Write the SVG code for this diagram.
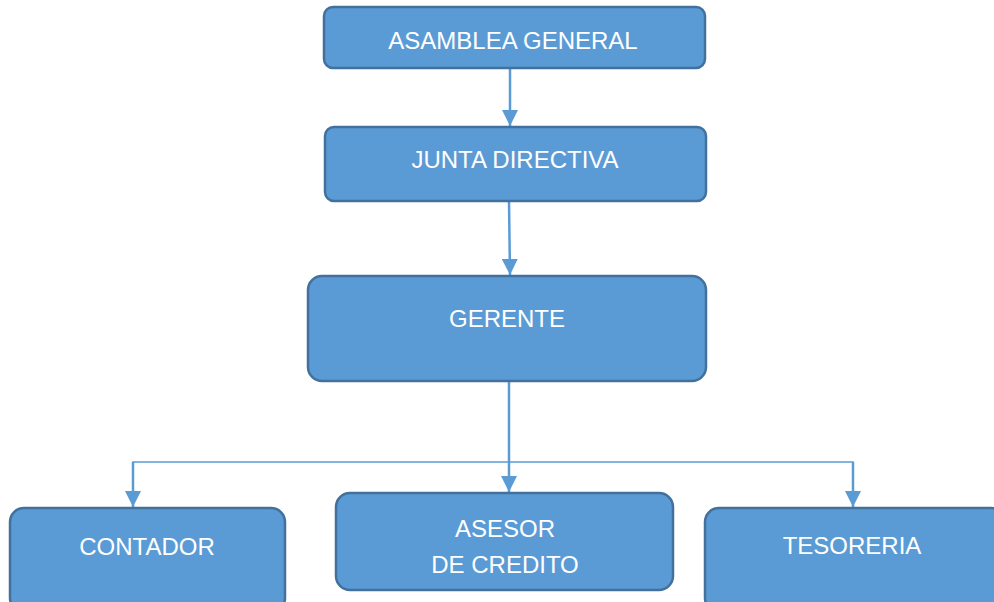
<svg xmlns="http://www.w3.org/2000/svg" width="994" height="602" viewBox="0 0 994 602">
<style>
.box{fill:#5B9BD5;stroke:#41719C;stroke-width:2.5}
.lbl{fill:#ffffff;font-family:"Liberation Sans",Arial,sans-serif;font-size:24px;text-anchor:middle}
.con{fill:none;stroke:#5B9BD5;stroke-width:2.5}
.thin{fill:none;stroke:#5B9BD5;stroke-width:1.5}
</style>
<defs>
<marker id="ah" markerUnits="userSpaceOnUse" markerWidth="16" markerHeight="16" viewBox="0 0 16 16" refX="16" refY="8" orient="auto">
<path d="M0,0 L16,8 L0,16 Z" fill="#5B9BD5"/>
</marker>
</defs>
<g id="connectors">
<line class="con" x1="510" y1="68" x2="510" y2="126" marker-end="url(#ah)"/>
<line class="con" x1="509" y1="201" x2="510" y2="275" marker-end="url(#ah)"/>
<line class="con" x1="509" y1="381" x2="509" y2="492" marker-end="url(#ah)"/>
<polyline class="thin" points="133,507 133,462 853,462 853,507"/>
<line class="con" x1="133" y1="462" x2="133" y2="507" marker-end="url(#ah)"/>
<line class="con" x1="853" y1="462" x2="853" y2="507" marker-end="url(#ah)"/>
</g>
<g id="asamblea">
<rect class="box" x="324" y="7" width="381" height="61" rx="9"/>
<text class="lbl" x="513" y="49">ASAMBLEA GENERAL</text>
</g>
<g id="junta">
<rect class="box" x="325" y="127" width="381" height="74" rx="9"/>
<text class="lbl" x="515" y="168">JUNTA DIRECTIVA</text>
</g>
<g id="gerente">
<rect class="box" x="308" y="276" width="398" height="105" rx="14"/>
<text class="lbl" x="507" y="327">GERENTE</text>
</g>
<g id="contador">
<rect class="box" x="10" y="508" width="275" height="104" rx="14"/>
<text class="lbl" x="147" y="555">CONTADOR</text>
</g>
<g id="asesor">
<rect class="box" x="336" y="493" width="337" height="97" rx="14"/>
<text class="lbl" x="505" y="537">ASESOR</text>
<text class="lbl" x="505" y="573">DE CREDITO</text>
</g>
<g id="tesoreria">
<rect class="box" x="705" y="508" width="300" height="104" rx="14"/>
<text class="lbl" x="852" y="554">TESORERIA</text>
</g>
</svg>
